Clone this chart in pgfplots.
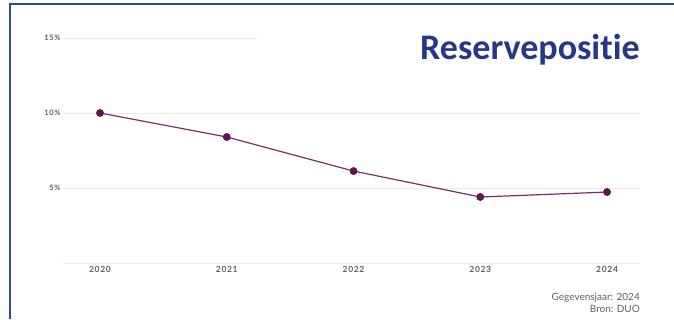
\documentclass[border=0pt]{standalone}
\usepackage{pgfplots}
\pgfplotsset{compat=1.18}
\usepackage{fontspec}
\setmainfont{Lato}
\newfontfamily\tickfont[LetterSpace=8]{Lato}
\newfontfamily\titlefont[Ligatures=NoCommon]{Carlito}
\definecolor{frameblue}{HTML}{2E4D7B}
\definecolor{titleblue}{HTML}{263787}
\definecolor{linepurple}{HTML}{74326A}
\definecolor{markpurple}{HTML}{5E1752}
\definecolor{gridgray}{HTML}{EBEBEB}
\definecolor{labgray}{HTML}{5F5F5F}
\begin{document}
\begin{tikzpicture}[x=1pt,y=1pt]
\path[use as bounding box] (0,0) rectangle (674,319);
\draw[frameblue, line width=2pt] (10,0) -- (10,314.5) -- (674,314.5);
\begin{axis}[
  at={(63pt,56pt)}, anchor=south west,
  scale only axis, width=577pt, height=225pt,
  xmin=2019.708, xmax=2024.26,
  ymin=0, ymax=15,
  axis line style={draw=none},
  xtick={2020,2021,2022,2023,2024},
  xticklabels={2020,2021,2022,2023,2024},
  ytick={5,10,15},
  yticklabels={5\%,10\%,15\%},
  major tick length=0pt,
  tick label style={font=\tickfont\fontsize{8.5}{9}\selectfont\bfseries, text=labgray},
  yticklabel style={font=\tickfont\fontsize{7.5}{9}\selectfont\bfseries, xshift=1pt},
  /pgf/number format/assume math mode=true,
  clip=false,
]
\draw[gridgray, line width=0.8pt] (axis cs:2019.708,0) -- (axis cs:2024.26,0);
\draw[gridgray, line width=0.8pt] (axis cs:2019.708,5) -- (axis cs:2024.26,5);
\draw[gridgray, line width=0.8pt] (axis cs:2019.708,10) -- (axis cs:2024.26,10);
\draw[gridgray, line width=0.8pt] (axis cs:2019.708,15) -- (axis cs:2021.24,15);
\addplot[linepurple, line width=1.2pt, mark=*, mark size=3.3pt, mark options={fill=markpurple, draw=markpurple}]
  coordinates {(2020,10.0) (2021,8.4) (2022,6.13) (2023,4.4) (2024,4.73)};
\end{axis}
\node[anchor=base east, inner sep=0pt, text=titleblue, font=\titlefont\bfseries\fontsize{36}{40}\selectfont] at (640,259) {Reservepositie};
\node[anchor=north east, inner sep=0pt, align=right, text=labgray, font=\fontsize{10}{12}\selectfont] at (640,26) {Gegevensjaar: 2024\\Bron: DUO};
\end{tikzpicture}
\end{document}
